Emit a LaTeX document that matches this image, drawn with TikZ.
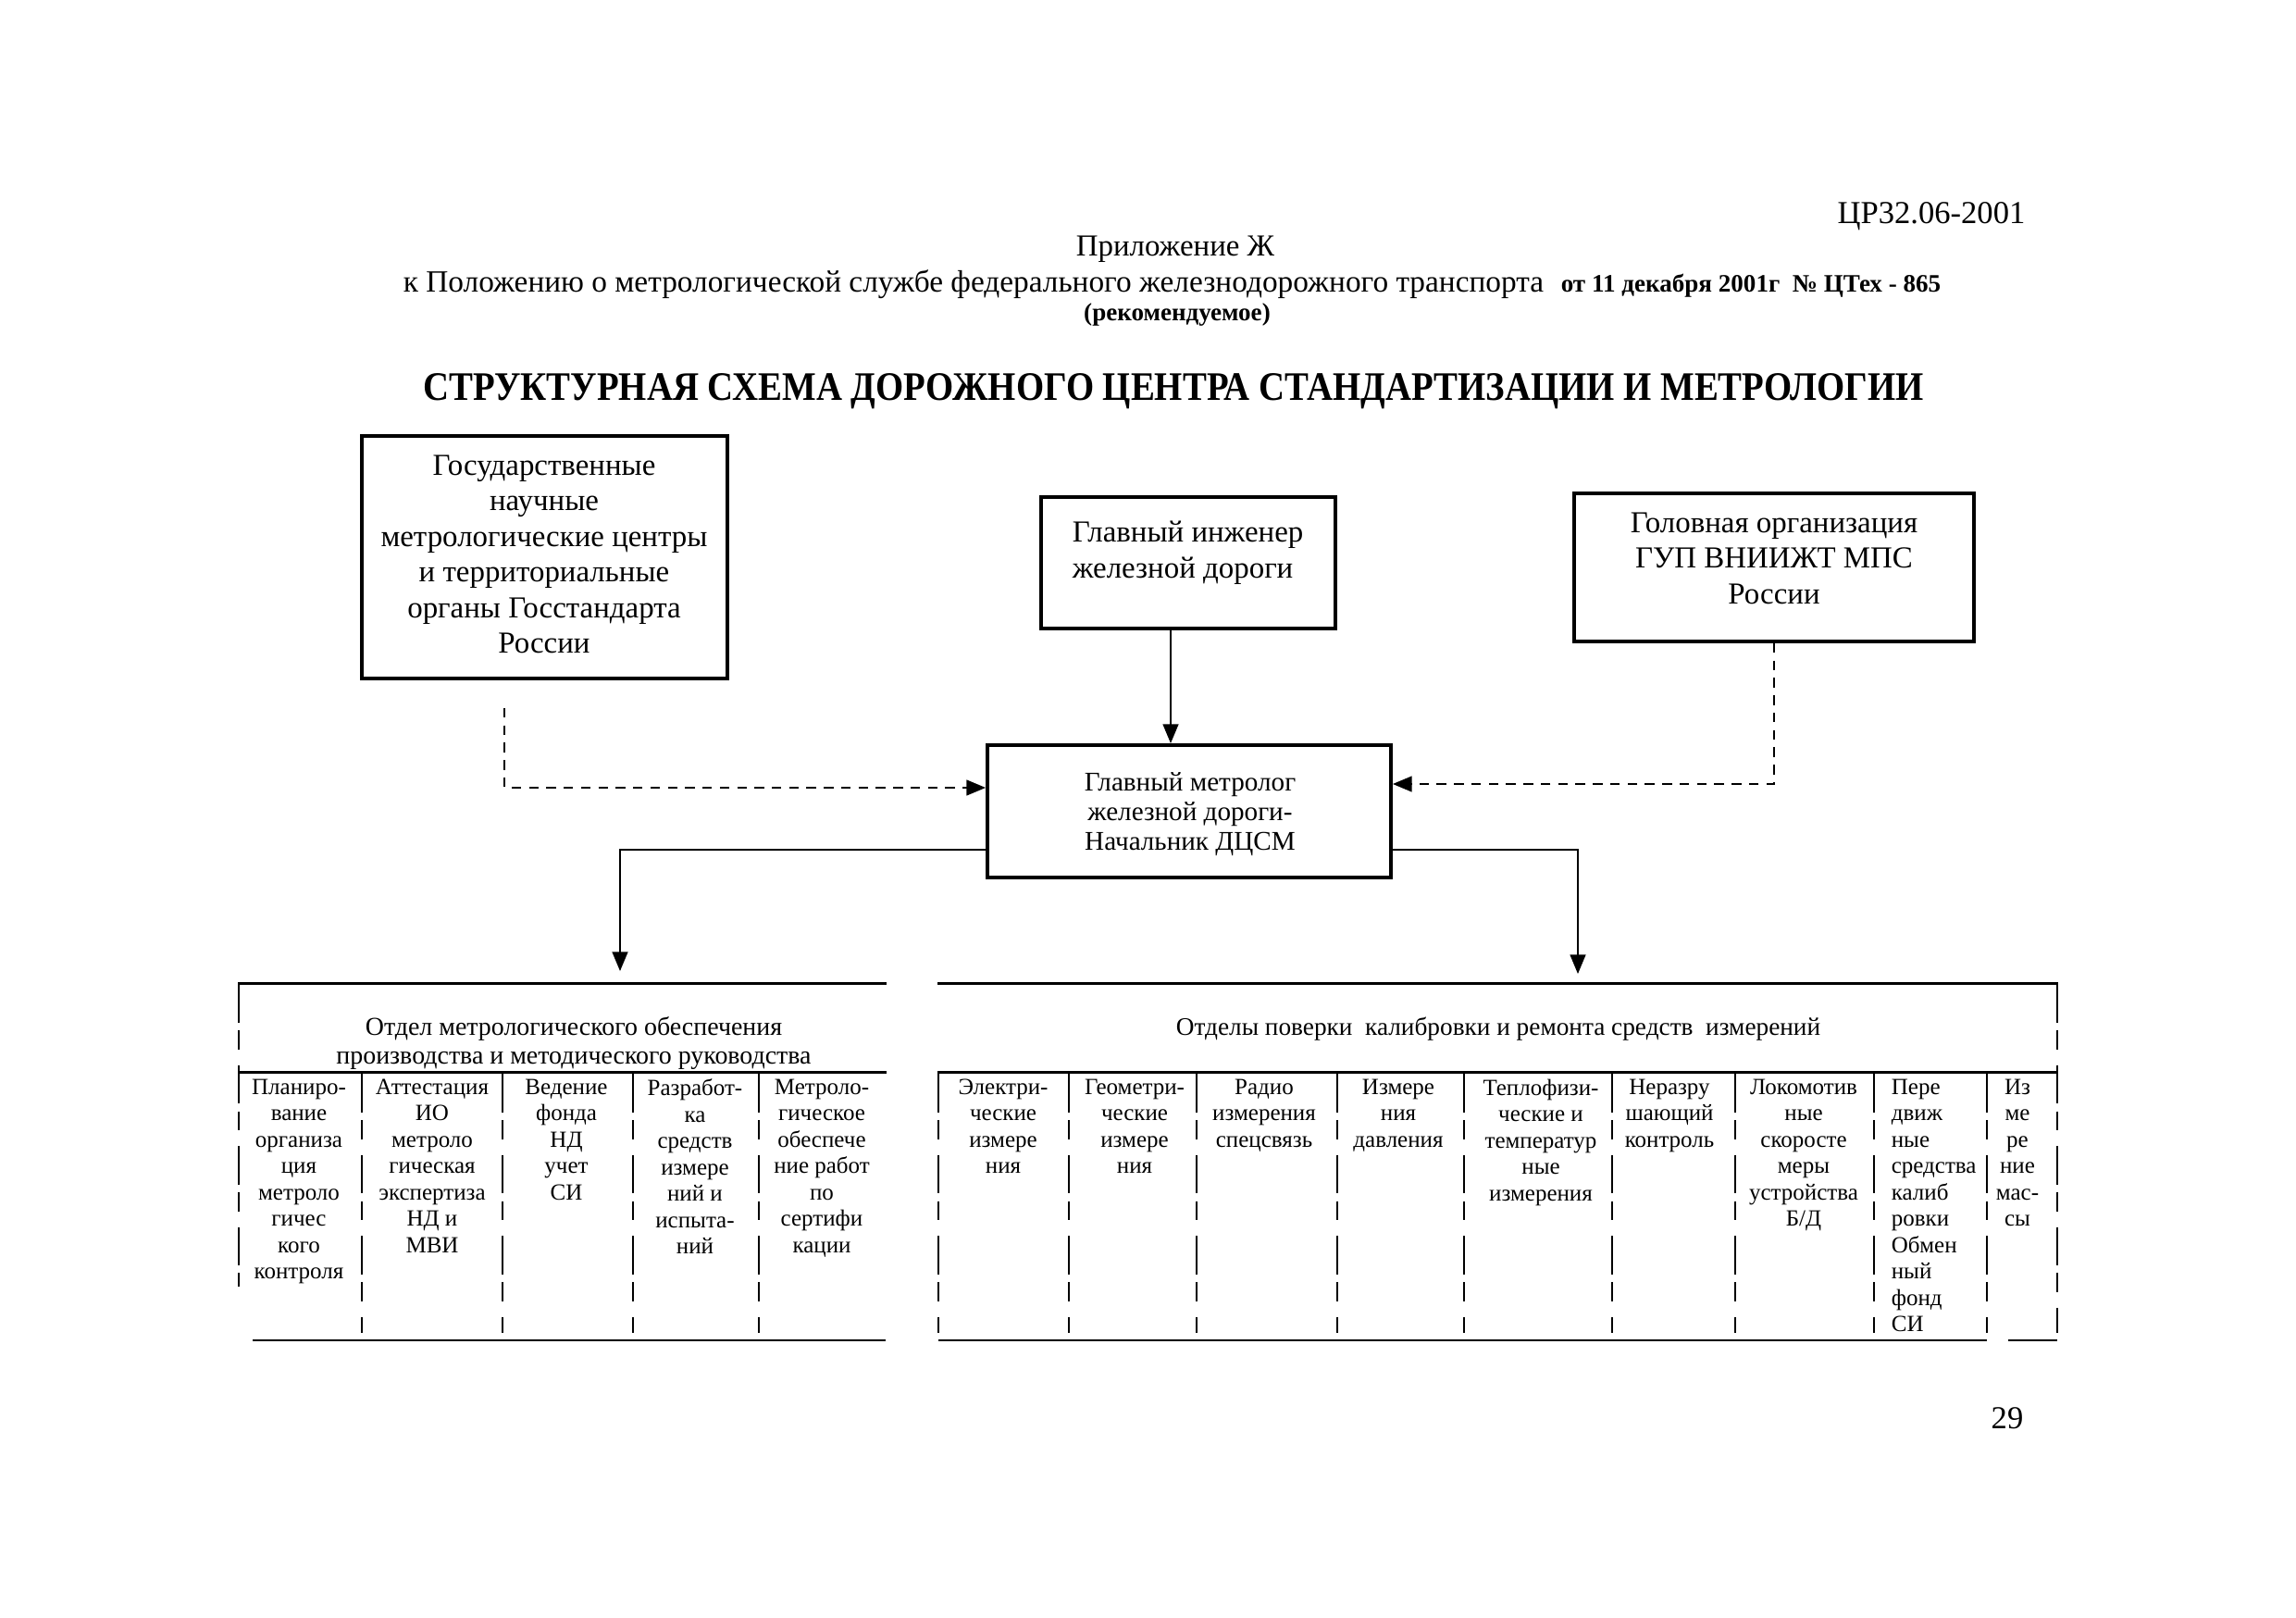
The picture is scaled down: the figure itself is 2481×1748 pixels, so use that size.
\documentclass[tikz,border=0pt]{standalone}
\usepackage{fontspec}
\setmainfont{Liberation Serif}
\usetikzlibrary{arrows.meta,calc}
\begin{document}
\begin{tikzpicture}[x=0.24pt,y=-0.24pt,
  box/.style={draw,line width=0.9pt,inner sep=0pt},
  boxtext/.style={inner sep=0pt,align=center,font=\fontsize{7.9pt}{9.24pt}\selectfont},
  conn/.style={line width=0.6pt,-{Triangle[length=5pt,width=4pt]}},
  dconn/.style={conn,dash pattern=on 2.5pt off 2pt},
  tline/.style={line width=0.7pt},
  tdiv/.style={line width=0.5pt,dash pattern=on 10pt off 2pt on 5pt off 4pt},
  cell/.style={inner sep=0pt,anchor=north,align=center,font=\fontsize{6pt}{6.84pt}\selectfont},
  hdr/.style={inner sep=0pt,align=center,font=\fontsize{6.7pt}{7.44pt}\selectfont},
]
\useasboundingbox (0,0) rectangle (2481,1748);

% page header
\node[inner sep=0pt,font=\fontsize{8.3pt}{10pt}\selectfont] (doc) at (2087,234) {ЦР32.06-2001};
\node[inner sep=0pt,font=\fontsize{7.9pt}{10pt}\selectfont] (app) at (1270,269) {Приложение Ж};
\node[inner sep=0pt,anchor=base west,font=\fontsize{8pt}{10pt}\selectfont] (ref) at (435,316)
  {к Положению о метрологической службе федерального железнодорожного транспорта\hspace{4.5pt}{\fontsize{6.5pt}{8pt}\selectfont\bfseries от 11 декабря 2001г\ \ № ЦТех - 865}};
\node[inner sep=0pt,font=\fontsize{6.5pt}{8pt}\selectfont\bfseries] (rec) at (1272,340) {(рекомендуемое)};
\node[inner sep=0pt,anchor=base,font=\fontsize{10.5pt}{12pt}\selectfont\bfseries] (title) at (1268,433)
  {\scalebox{0.887}[1]{СТРУКТУРНАЯ СХЕМА ДОРОЖНОГО ЦЕНТРА СТАНДАРТИЗАЦИИ И МЕТРОЛОГИИ}};

% boxes
\node[box,minimum width={395*0.24pt},minimum height={262*0.24pt}] (b1) at (588.5,602) {};
\node[boxtext] (b1t) at (588,599) {Государственные\\научные\\метрологические центры\\и территориальные\\органы Госстандарта\\России};
\node[box,minimum width={318*0.24pt},minimum height={142*0.24pt}] (b2) at (1284,608) {};
\node[boxtext,align=left,anchor=west] (b2t) at (1158,597) {Главный инженер\\железной дороги};
\node[box,minimum width={432*0.24pt},minimum height={160*0.24pt}] (b3) at (1917,613) {};
\node[boxtext] (b3t) at (1917,603) {Головная организация\\ГУП ВНИИЖТ МПС\\России};
\node[box,minimum width={436*0.24pt},minimum height={143*0.24pt}] (b4) at (1285,876.5) {};
\node[boxtext,font=\fontsize{7pt}{7.68pt}\selectfont] (b4t) at (1286,880) {Главный метролог\\железной дороги-\\Начальник ДЦСМ};

% table headers
\node[inner sep=0pt,minimum width={699*0.24pt},minimum height={95*0.24pt}] (th1) at (607.5,1110.5) {};
\node[hdr] (th1t) at (620,1127.5) {Отдел метрологического обеспечения\\производства и методического руководства};
\node[inner sep=0pt,minimum width={1209*0.24pt},minimum height={95*0.24pt}] (th2) at (1618.5,1110.5) {};
\node[hdr,font=\fontsize{6.55pt}{7.44pt}\selectfont] (th2t) at (1619,1112) {Отделы поверки\ \ калибровки и ремонта средств\ \ измерений};

% connectors
\coordinate (p1) at (545,765);
\draw[dconn] (p1) |- ($(b4.west)+(0,-25.5)$);
\draw[dconn] (b3.south) |- ($(b4.east)+(0,-29.5)$);
\draw[conn] ($(b2.south)+(-19,0)$) -- ($(b4.north)+(-20,0)$);
\draw[conn] ($(b4.west)+(0,41.5)$) -| ($(th1.north)+(62.5,-13)$);
\draw[conn] ($(b4.east)+(0,41.5)$) -| ($(th2.north)+(86.5,-10)$);

% left table lines
\draw[tline] (th1.north west) -- (th1.north east);
\draw[tline] (th1.south west) -- (th1.south east);
\draw[tline] (273,1448) -- (957,1448);
\draw[tdiv] (258,1063) -- (258,1390);
\foreach \xx in {391,543,684,820} \draw[tdiv] (\xx,1160) -- (\xx,1440);

% right table lines
\draw[tline] (th2.north west) -- (th2.north east);
\draw[tline] (th2.south west) -- (th2.south east);
\draw[tline] (1014,1448) -- (2147,1448);
\draw[tline] (2170,1448) -- (2223,1448);
\draw[tdiv] (2223,1063) -- (2223,1440);
\draw[tdiv] (1014,1160) -- (1014,1440);
\foreach \xx in {1155,1293,1445,1582,1742,1875,2025,2147} \draw[tdiv] (\xx,1160) -- (\xx,1440);

% left table cells
\node[cell] (l1) at (323,1165) {Планиро-\\вание\\организа\\ция\\метроло\\гичес\\кого\\контроля};
\node[cell] (l2) at (467,1165) {Аттестация\\ИО\\метроло\\гическая\\экспертиза\\НД и\\МВИ};
\node[cell] (l3) at (612,1165) {Ведение\\фонда\\НД\\учет\\СИ};
\node[cell] (l4) at (751,1165) {Разработ-\\ка\\средств\\измере\\ний и\\испыта-\\ний};
\node[cell] (l5) at (888,1165) {Метроло-\\гическое\\обеспече\\ние работ\\по\\сертифи\\кации};

% right table cells
\node[cell] (r1) at (1084,1165) {Электри-\\ческие\\измере\\ния};
\node[cell] (r2) at (1226,1165) {Геометри-\\ческие\\измере\\ния};
\node[cell] (r3) at (1366,1165) {Радио\\измерения\\спецсвязь};
\node[cell] (r4) at (1511,1165) {Измере\\ния\\давления};
\node[cell] (r5) at (1665,1165) {Теплофизи-\\ческие и\\температур\\ные\\измерения};
\node[cell] (r6) at (1804,1165) {Неразру\\шающий\\контроль};
\node[cell] (r7) at (1949,1165) {Локомотив\\ные\\скоросте\\меры\\устройства\\Б/Д};
\node[cell,anchor=north west,align=left] (r8) at (2043,1165) {Пере\\движ\\ные\\средства\\калиб\\ровки\\Обмен\\ный\\фонд\\СИ};
\node[cell] (r9) at (2180,1165) {Из\\ме\\ре\\ние\\мас-\\сы};

% page number
\node[inner sep=0pt,font=\fontsize{8.3pt}{10pt}\selectfont] (pg) at (2169,1532) {29};
\end{tikzpicture}
\end{document}
